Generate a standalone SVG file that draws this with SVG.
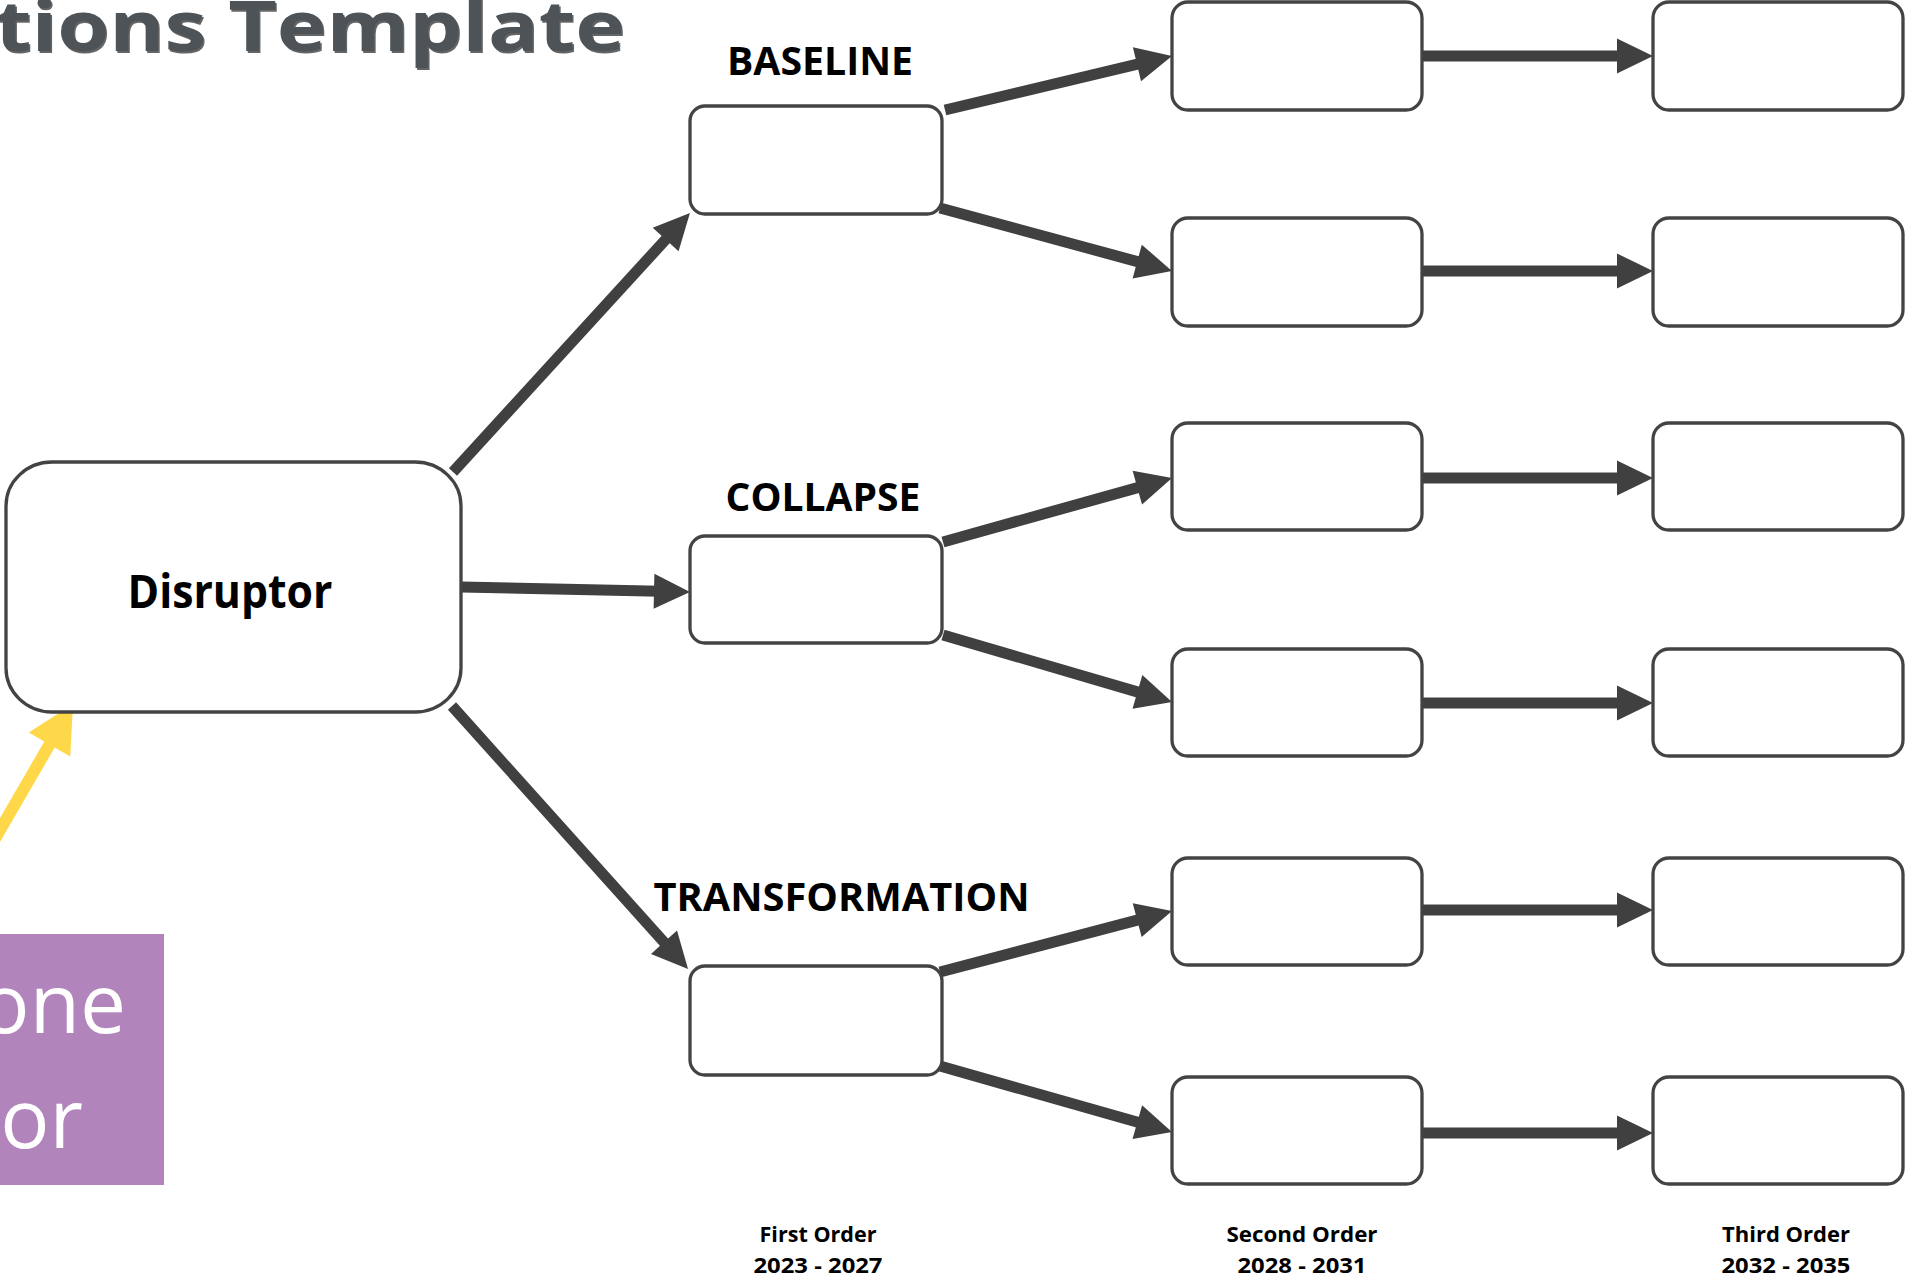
<svg xmlns="http://www.w3.org/2000/svg" width="1906" height="1277" viewBox="0 0 1906 1277">
<style>
.box{fill:#fff;stroke:#434343;stroke-width:3.3}
.lbl{font-family:"Open Sans","Noto Sans","Liberation Sans",sans-serif;font-weight:700;fill:#000}
.con{stroke:#404040;stroke-width:11;fill:none;marker-end:url(#ah)}
.hcon{stroke:#404040;stroke-width:11;fill:none;marker-end:url(#ah)}
.foot{font-family:"Open Sans","Noto Sans","Liberation Sans",sans-serif;font-weight:700;font-size:22px;fill:#000;text-anchor:middle}
.purple{font-family:"Open Sans","Noto Sans","Liberation Sans",sans-serif;font-size:82px;fill:#fff;text-anchor:end}
</style>
<defs>
<marker id="ah" markerUnits="userSpaceOnUse" markerWidth="36" markerHeight="35" refX="6" refY="17.5" orient="auto" overflow="visible">
<path d="M0,0 L36,17.5 L0,35 Z" fill="#404040"/>
</marker>
<marker id="yah" markerUnits="userSpaceOnUse" markerWidth="47" markerHeight="48" refX="7" refY="24" orient="auto" overflow="visible">
<path d="M0,0 L47,24 L0,48 Z" fill="#ffd84a"/>
</marker>
</defs>
<rect width="1906" height="1277" fill="#fff"/>

<g id="title">
<text x="-5" y="51" textLength="630" lengthAdjust="spacingAndGlyphs" class="lbl" font-size="70" fill="#23272a" transform="translate(1.5,1.5)" opacity="0.6">tions Template</text>
<text x="-5" y="51" textLength="630" lengthAdjust="spacingAndGlyphs" class="lbl" font-size="70" style="fill:#4d5357">tions Template</text>
</g>

<g id="connectors">
<line class="con" x1="453" y1="472" x2="669.7" y2="235.1"/>
<line class="con" x1="461" y1="587" x2="660" y2="591.3"/>
<line class="con" x1="452" y1="706" x2="668" y2="946.7"/>
<line class="con" x1="945" y1="110" x2="1142.8" y2="62.9"/>
<line class="con" x1="940" y1="208" x2="1143" y2="263.1"/>
<line class="con" x1="943" y1="542" x2="1143.1" y2="486.1"/>
<line class="con" x1="943" y1="635" x2="1143.2" y2="693.6"/>
<line class="con" x1="940" y1="972" x2="1143" y2="918.6"/>
<line class="con" x1="940" y1="1066" x2="1143.1" y2="1123.8"/>
<line class="hcon" x1="1422" y1="56" x2="1623" y2="56"/>
<line class="hcon" x1="1422" y1="271" x2="1623" y2="271"/>
<line class="hcon" x1="1422" y1="478" x2="1623" y2="478"/>
<line class="hcon" x1="1422" y1="703" x2="1623" y2="703"/>
<line class="hcon" x1="1422" y1="910" x2="1623" y2="910"/>
<line class="hcon" x1="1422" y1="1133" x2="1623" y2="1133"/>
<line x1="-10" y1="847.3" x2="53" y2="738.5" stroke="#ffd84a" stroke-width="12" marker-end="url(#yah)"/>
</g>

<g id="disruptor">
<rect class="box" x="6" y="462" width="455" height="250" rx="46" ry="44"/>
<text class="lbl" x="230" y="608" font-size="46" text-anchor="middle" textLength="205" lengthAdjust="spacingAndGlyphs">Disruptor</text>
</g>

<g id="baseline">
<text class="lbl" x="820" y="75" font-size="40" text-anchor="middle" textLength="186" lengthAdjust="spacingAndGlyphs">BASELINE</text>
<rect class="box" x="690" y="106" width="252" height="108" rx="15"/>
</g>
<g id="collapse">
<text class="lbl" x="823" y="511" font-size="40" text-anchor="middle" textLength="195" lengthAdjust="spacingAndGlyphs">COLLAPSE</text>
<rect class="box" x="690" y="536" width="252" height="107" rx="15"/>
</g>
<g id="transformation">
<text class="lbl" x="841.5" y="911" font-size="40" text-anchor="middle" textLength="376" lengthAdjust="spacingAndGlyphs">TRANSFORMATION</text>
<rect class="box" x="690" y="966" width="252" height="109" rx="15"/>
</g>

<g id="second-1"><rect class="box" x="1172" y="2" width="250" height="108" rx="16"/></g>
<g id="second-2"><rect class="box" x="1172" y="218" width="250" height="108" rx="16"/></g>
<g id="second-3"><rect class="box" x="1172" y="423" width="250" height="107" rx="16"/></g>
<g id="second-4"><rect class="box" x="1172" y="649" width="250" height="107" rx="16"/></g>
<g id="second-5"><rect class="box" x="1172" y="858" width="250" height="107" rx="16"/></g>
<g id="second-6"><rect class="box" x="1172" y="1077" width="250" height="107" rx="16"/></g>

<g id="third-1"><rect class="box" x="1653" y="2" width="250" height="108" rx="16"/></g>
<g id="third-2"><rect class="box" x="1653" y="218" width="250" height="108" rx="16"/></g>
<g id="third-3"><rect class="box" x="1653" y="423" width="250" height="107" rx="16"/></g>
<g id="third-4"><rect class="box" x="1653" y="649" width="250" height="107" rx="16"/></g>
<g id="third-5"><rect class="box" x="1653" y="858" width="250" height="107" rx="16"/></g>
<g id="third-6"><rect class="box" x="1653" y="1077" width="250" height="107" rx="16"/></g>

<g id="note">
<rect x="0" y="934" width="164" height="251" fill="#b184bc"/>
<text class="purple" x="126" y="1033">one</text>
<text class="purple" x="83" y="1148">or</text>
</g>

<g id="footer">
<text class="foot" x="818" y="1242" textLength="117" lengthAdjust="spacingAndGlyphs">First Order</text>
<text class="foot" x="818" y="1273" textLength="129" lengthAdjust="spacingAndGlyphs">2023 - 2027</text>
<text class="foot" x="1302" y="1242" textLength="151" lengthAdjust="spacingAndGlyphs">Second Order</text>
<text class="foot" x="1302" y="1273" textLength="129" lengthAdjust="spacingAndGlyphs">2028 - 2031</text>
<text class="foot" x="1786" y="1242" textLength="128" lengthAdjust="spacingAndGlyphs">Third Order</text>
<text class="foot" x="1786" y="1273" textLength="129" lengthAdjust="spacingAndGlyphs">2032 - 2035</text>
</g>
</svg>
